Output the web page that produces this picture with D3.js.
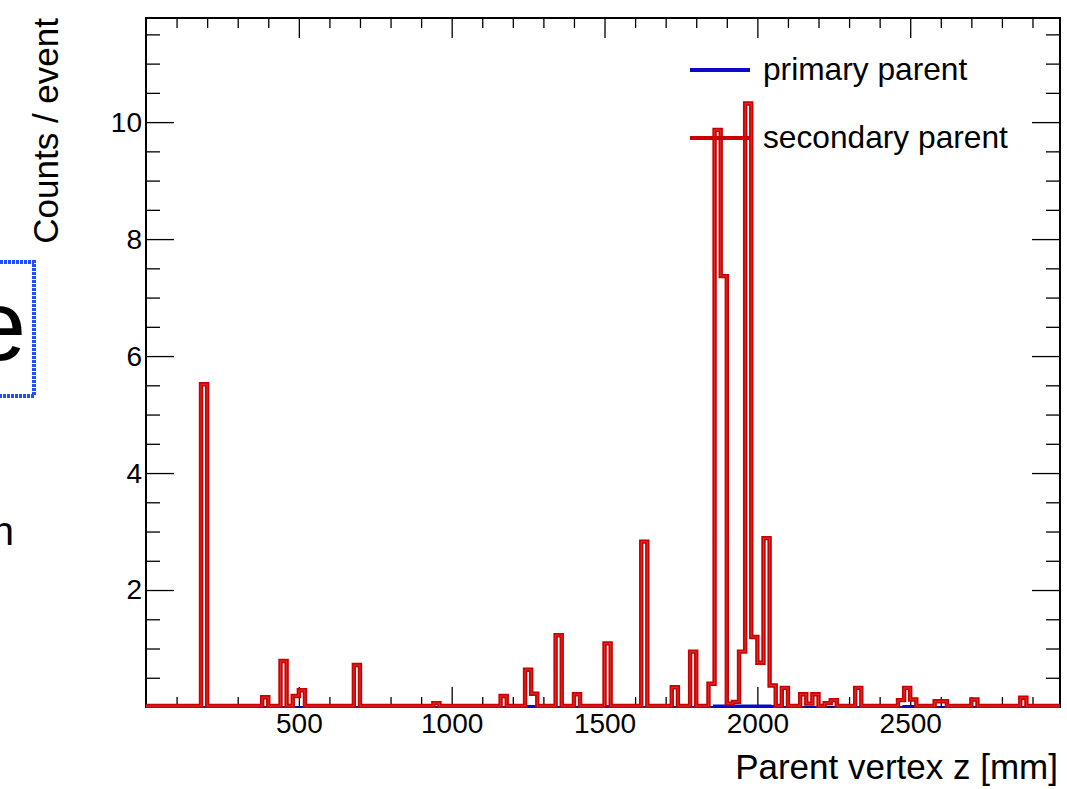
<!DOCTYPE html>
<html>
<head>
<meta charset="utf-8">
<script src="https://cdn.jsdelivr.net/npm/d3@7"></script>
<style>
  html, body { margin: 0; padding: 0; background: #fff; overflow: hidden; }
  text { font-family: "Liberation Sans", Arial, Helvetica, sans-serif; fill: #000; }
</style>
</head>
<body>
<div id="chart"></div>
<script>
// histogram settings (mm)
var zMin = 0, zMax = 2990, binWidth = 20, nBins = 150;
var yMax = 11.78;

// secondary parent: lower bin edge [mm] and counts / event
var secZ = [180, 380, 440, 480, 500, 680, 940, 1160, 1240, 1260, 1340, 1400, 1500, 1620, 1720, 1780,
  1840, 1860, 1880, 1900, 1920, 1940, 1960, 1980, 2000, 2020, 2040, 2080, 2140, 2160, 2180, 2220, 2240,
  2320, 2460, 2480, 2500, 2580, 2600, 2700, 2860];
var secN = [5.5, 0.15, 0.77, 0.17, 0.27, 0.7, 0.05, 0.17, 0.62, 0.21, 1.21, 0.2, 1.07, 2.81, 0.32, 0.93,
  0.38, 9.85, 7.35, 0.04, 0.07, 0.93, 10.3, 1.18, 0.74, 2.87, 0.35, 0.31, 0.2, 0.04, 0.2, 0.05, 0.1,
  0.31, 0.1, 0.31, 0.11, 0.08, 0.08, 0.11, 0.14];

// primary parent: almost empty
var primZ = [1240, 1260, 1500, 1860, 1880, 1900, 1920, 1940, 1960, 1980, 2000, 2020, 2040, 2060, 2480, 2500];
var primN = [0.02, 0.02, 0.02, 0.03, 0.03, 0.03, 0.03, 0.03, 0.03, 0.03, 0.03, 0.03, 0.02, 0.02, 0.02, 0.02];

var xMajor = [500, 1000, 1500, 2000, 2500];
var yMajor = [2, 4, 6, 8, 10];

var legendItems = ["primary parent", "secondary parent"];
var colors = {primary: "#0a0ac8", secondary: "#cc0000"};

var W = 1067, H = 789;
var frame = {left: 146, right: 1060, top: 18, bottom: 707};

var svg = d3.select("#chart").append("svg")
  .attr("width", W).attr("height", H);

var x = d3.scaleLinear().domain([zMin, zMax]).range([frame.left, frame.right]);
var y = d3.scaleLinear().domain([0, yMax]).range([frame.bottom, frame.top]);

// slide leftovers on the left side
svg.append("rect")
  .attr("x", -20).attr("y", 262).attr("width", 54).attr("height", 134)
  .attr("fill", "none").attr("stroke", "#1f4fff").attr("stroke-width", 4)
  .attr("stroke-dasharray", "3,1");
svg.append("text").attr("x", 26).attr("y", 360).attr("text-anchor", "end")
  .style("font-size", "100px").text("e");
svg.append("text").attr("x", 14).attr("y", 545).attr("text-anchor", "end")
  .style("font-size", "40px").text("n");

function fullHist(zs, ns) {
  var counts = d3.range(nBins).map(function () { return 0; });
  zs.forEach(function (z, i) { counts[Math.round(z / binWidth)] = ns[i]; });
  var pts = [[zMin, 0]];
  counts.forEach(function (c, k) {
    pts.push([k * binWidth, c]);
    pts.push([(k + 1) * binWidth, c]);
  });
  pts.push([nBins * binWidth, 0]);
  return pts;
}

var line = d3.line()
  .x(function (d) { return x(d[0]); })
  .y(function (d) { return y(d[1]); });

// axes, ROOT style ticks inside the frame
function minorTicks(lo, hi, step) {
  return d3.range(lo, hi + 1e-9, step).map(function (v) { return +v.toFixed(3); });
}
var xMinor = minorTicks(100, 2900, 100).filter(function (v) { return xMajor.indexOf(v) < 0; });
var yMinor = minorTicks(0.5, 11.5, 0.5).filter(function (v) { return yMajor.indexOf(v) < 0; });

function drawAxis(axisFn, scale, pos, majors, minors, majLen, minLen, labels) {
  var g1 = svg.append("g").attr("transform", pos)
    .call(axisFn(scale).tickValues(minors).tickSize(-minLen).tickFormat(""));
  var g2 = svg.append("g").attr("transform", pos)
    .call(axisFn(scale).tickValues(majors).tickSize(-majLen).tickPadding(labels ? 4 : 0)
      .tickFormat(labels ? d3.format("d") : ""));
  [g1, g2].forEach(function (g) {
    g.select(".domain").remove();
    g.selectAll(".tick line").attr("stroke", "#000").attr("stroke-width", 1.3);
  });
  return g2;
}

var gx = drawAxis(d3.axisBottom, x, "translate(0," + frame.bottom + ")", xMajor, xMinor, 20, 10, true);
gx.selectAll("text").style("font-size", "28px").attr("dy", "0.8em");
drawAxis(d3.axisTop, x, "translate(0," + frame.top + ")", xMajor, xMinor, 20, 10, false);
var gy = drawAxis(d3.axisLeft, y, "translate(" + frame.left + ",0)", yMajor, yMinor, 28, 14, true);
gy.selectAll("text").style("font-size", "28px");
drawAxis(d3.axisRight, y, "translate(" + frame.right + ",0)", yMajor, yMinor, 28, 14, false);

svg.append("rect")
  .attr("x", frame.left).attr("y", frame.top)
  .attr("width", frame.right - frame.left).attr("height", frame.bottom - frame.top)
  .attr("fill", "none").attr("stroke", "#000").attr("stroke-width", 2);

// histograms on top of the frame line
svg.append("clipPath").attr("id", "clip")
  .append("rect")
  .attr("x", frame.left).attr("y", frame.top - 5)
  .attr("width", frame.right - frame.left).attr("height", frame.bottom - frame.top + 6);

var plot = svg.append("g").attr("clip-path", "url(#clip)");

plot.append("path")
  .attr("d", line(fullHist(primZ, primN)))
  .attr("fill", "none").attr("stroke", colors.primary).attr("stroke-width", 3.5)
  .attr("transform", "translate(0,1)");

var secPath = line(fullHist(secZ, secN));
plot.append("path")
  .attr("d", secPath)
  .attr("fill", "none").attr("stroke", colors.secondary).attr("stroke-width", 4.4)
  .attr("transform", "translate(0,-1)");
plot.append("path")
  .attr("d", secPath)
  .attr("fill", "none").attr("stroke", "#f2b8b8").attr("stroke-width", 0.6)
  .attr("opacity", 0.45)
  .attr("transform", "translate(0,-1)");

// axis titles
svg.append("text")
  .attr("x", frame.right - 2).attr("y", 779)
  .attr("text-anchor", "end").style("font-size", "35px")
  .text("Parent vertex z [mm]");
svg.append("text")
  .attr("transform", "translate(58," + frame.top + ") rotate(-90)")
  .attr("text-anchor", "end").style("font-size", "35px")
  .text("Counts / event");

// legend
var leg = svg.append("g");
legendItems.forEach(function (name, i) {
  var ly = 70 + i * 68;
  leg.append("line")
    .attr("x1", 690).attr("x2", 750).attr("y1", ly).attr("y2", ly)
    .attr("stroke", i === 0 ? colors.primary : colors.secondary).attr("stroke-width", 4);
  leg.append("text")
    .attr("x", 763).attr("y", ly + 10)
    .style("font-size", "31.7px")
    .text(name);
});
</script>
</body>
</html>
